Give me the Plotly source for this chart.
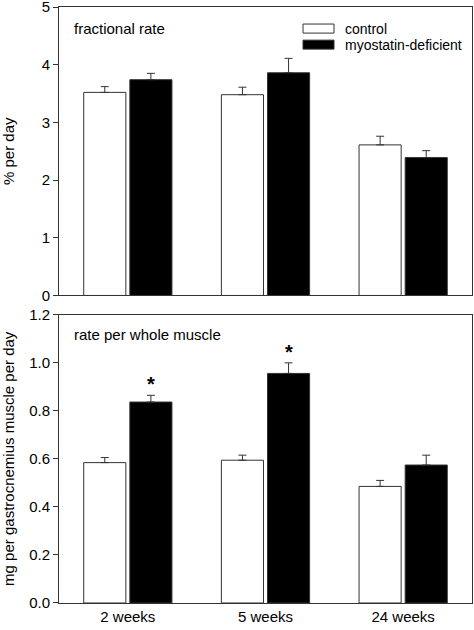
import plotly.graph_objects as go
from plotly.subplots import make_subplots

categories = ["2 weeks", "5 weeks", "24 weeks"]
series_names = ["control", "myostatin-deficient"]

frac_control = [3.52, 3.48, 2.61]
frac_control_err = [0.10, 0.13, 0.15]
frac_myo = [3.74, 3.86, 2.39]
frac_myo_err = [0.11, 0.25, 0.12]

whole_control = [0.584, 0.594, 0.485]
whole_control_err = [0.021, 0.021, 0.025]
whole_myo = [0.836, 0.955, 0.574]
whole_myo_err = [0.028, 0.044, 0.041]

significant_myo = [True, True, False]

top_ticks = [0, 1, 2, 3, 4, 5]
bottom_ticks = [0.0, 0.2, 0.4, 0.6, 0.8, 1.0, 1.2]

FONT = "Liberation Sans, Arial, sans-serif"
LINE = "#333333"

fig = make_subplots(rows=2, cols=1, shared_xaxes=False, vertical_spacing=0.032,
                    row_heights=[0.5, 0.5])

def add_bars(vals, errs, name, color, row):
    fig.add_trace(go.Bar(
        x=categories, y=vals, name=name,
        marker=dict(color=color, line=dict(color=LINE, width=1)),
        error_y=dict(type="data", array=errs, arrayminus=[0] * len(errs),
                     symmetric=False, color=LINE, thickness=1, width=4),
        showlegend=False, hoverinfo="skip",
    ), row=row, col=1)

add_bars(frac_control, frac_control_err, series_names[0], "white", 1)
add_bars(frac_myo, frac_myo_err, series_names[1], "black", 1)
add_bars(whole_control, whole_control_err, series_names[0], "white", 2)
add_bars(whole_myo, whole_myo_err, series_names[1], "black", 2)

for cat, v, e, sig in zip(categories, whole_myo, whole_myo_err, significant_myo):
    if sig:
        fig.add_annotation(x=cat, y=v + e, xref="x2", yref="y2", text="<b>*</b>",
                           showarrow=False, xshift=23, yanchor="bottom", yshift=-2,
                           font=dict(family=FONT, size=20, color="black"))

axis_common = dict(showline=True, linecolor=LINE, linewidth=1, mirror=True,
                   showgrid=False, zeroline=False, automargin=False,
                   ticklabeloverflow="allow",
                   tickfont=dict(family=FONT, size=15, color="black"))

fig.update_xaxes(**axis_common, ticks="", range=[-0.5, 2.5])
fig.update_xaxes(showticklabels=False, row=1, col=1)
fig.update_yaxes(**axis_common, ticks="outside", ticklen=5, tickcolor=LINE)
fig.update_yaxes(range=[0, 5], tickvals=top_ticks, row=1, col=1,
                 title=dict(text="% per day", font=dict(family=FONT, size=15, color="black"), standoff=24))
fig.update_yaxes(range=[0, 1.2], tickvals=bottom_ticks, tickformat=".1f", row=2, col=1,
                 title=dict(text="mg per gastrocnemius muscle per day",
                            font=dict(family=FONT, size=15, color="black"), standoff=13))

# panel labels
fig.add_annotation(x=0.0315, y=0.9645, xref="paper", yref="paper", text="fractional rate",
                   showarrow=False, xanchor="left", yanchor="middle",
                   font=dict(family=FONT, size=15, color="black"))
fig.add_annotation(x=0.0315, y=0.4510, xref="paper", yref="paper", text="rate per whole muscle",
                   showarrow=False, xanchor="left", yanchor="middle",
                   font=dict(family=FONT, size=15, color="black"))

# custom legend
legend_fill = ["white", "black"]
legend_y = [(0.9562, 0.9714), (0.9293, 0.9444)]
for name, fill, (y0, y1) in zip(series_names, legend_fill, legend_y):
    fig.add_shape(type="rect", xref="paper", yref="paper", x0=0.5908, x1=0.6659, y0=y0, y1=y1,
                  fillcolor=fill, line=dict(color=LINE, width=1))
    fig.add_annotation(x=0.6877, y=(y0 + y1) / 2, xref="paper", yref="paper", text=name,
                       showarrow=False, xanchor="left", yanchor="middle",
                       font=dict(family=FONT, size=14, color="black"))

fig.update_layout(
    width=474, height=630,
    margin=dict(l=59, r=2, t=7, b=27, autoexpand=False),
    plot_bgcolor="white", paper_bgcolor="white",
    barmode="group", bargap=0.33, bargroupgap=0.087,
    font=dict(family=FONT, color="black"),
    hovermode=False,
)

fig.write_html("out.html", config={"displayModeBar": False},
               post_script="document.body.style.margin='0';document.body.style.overflow='hidden';")
